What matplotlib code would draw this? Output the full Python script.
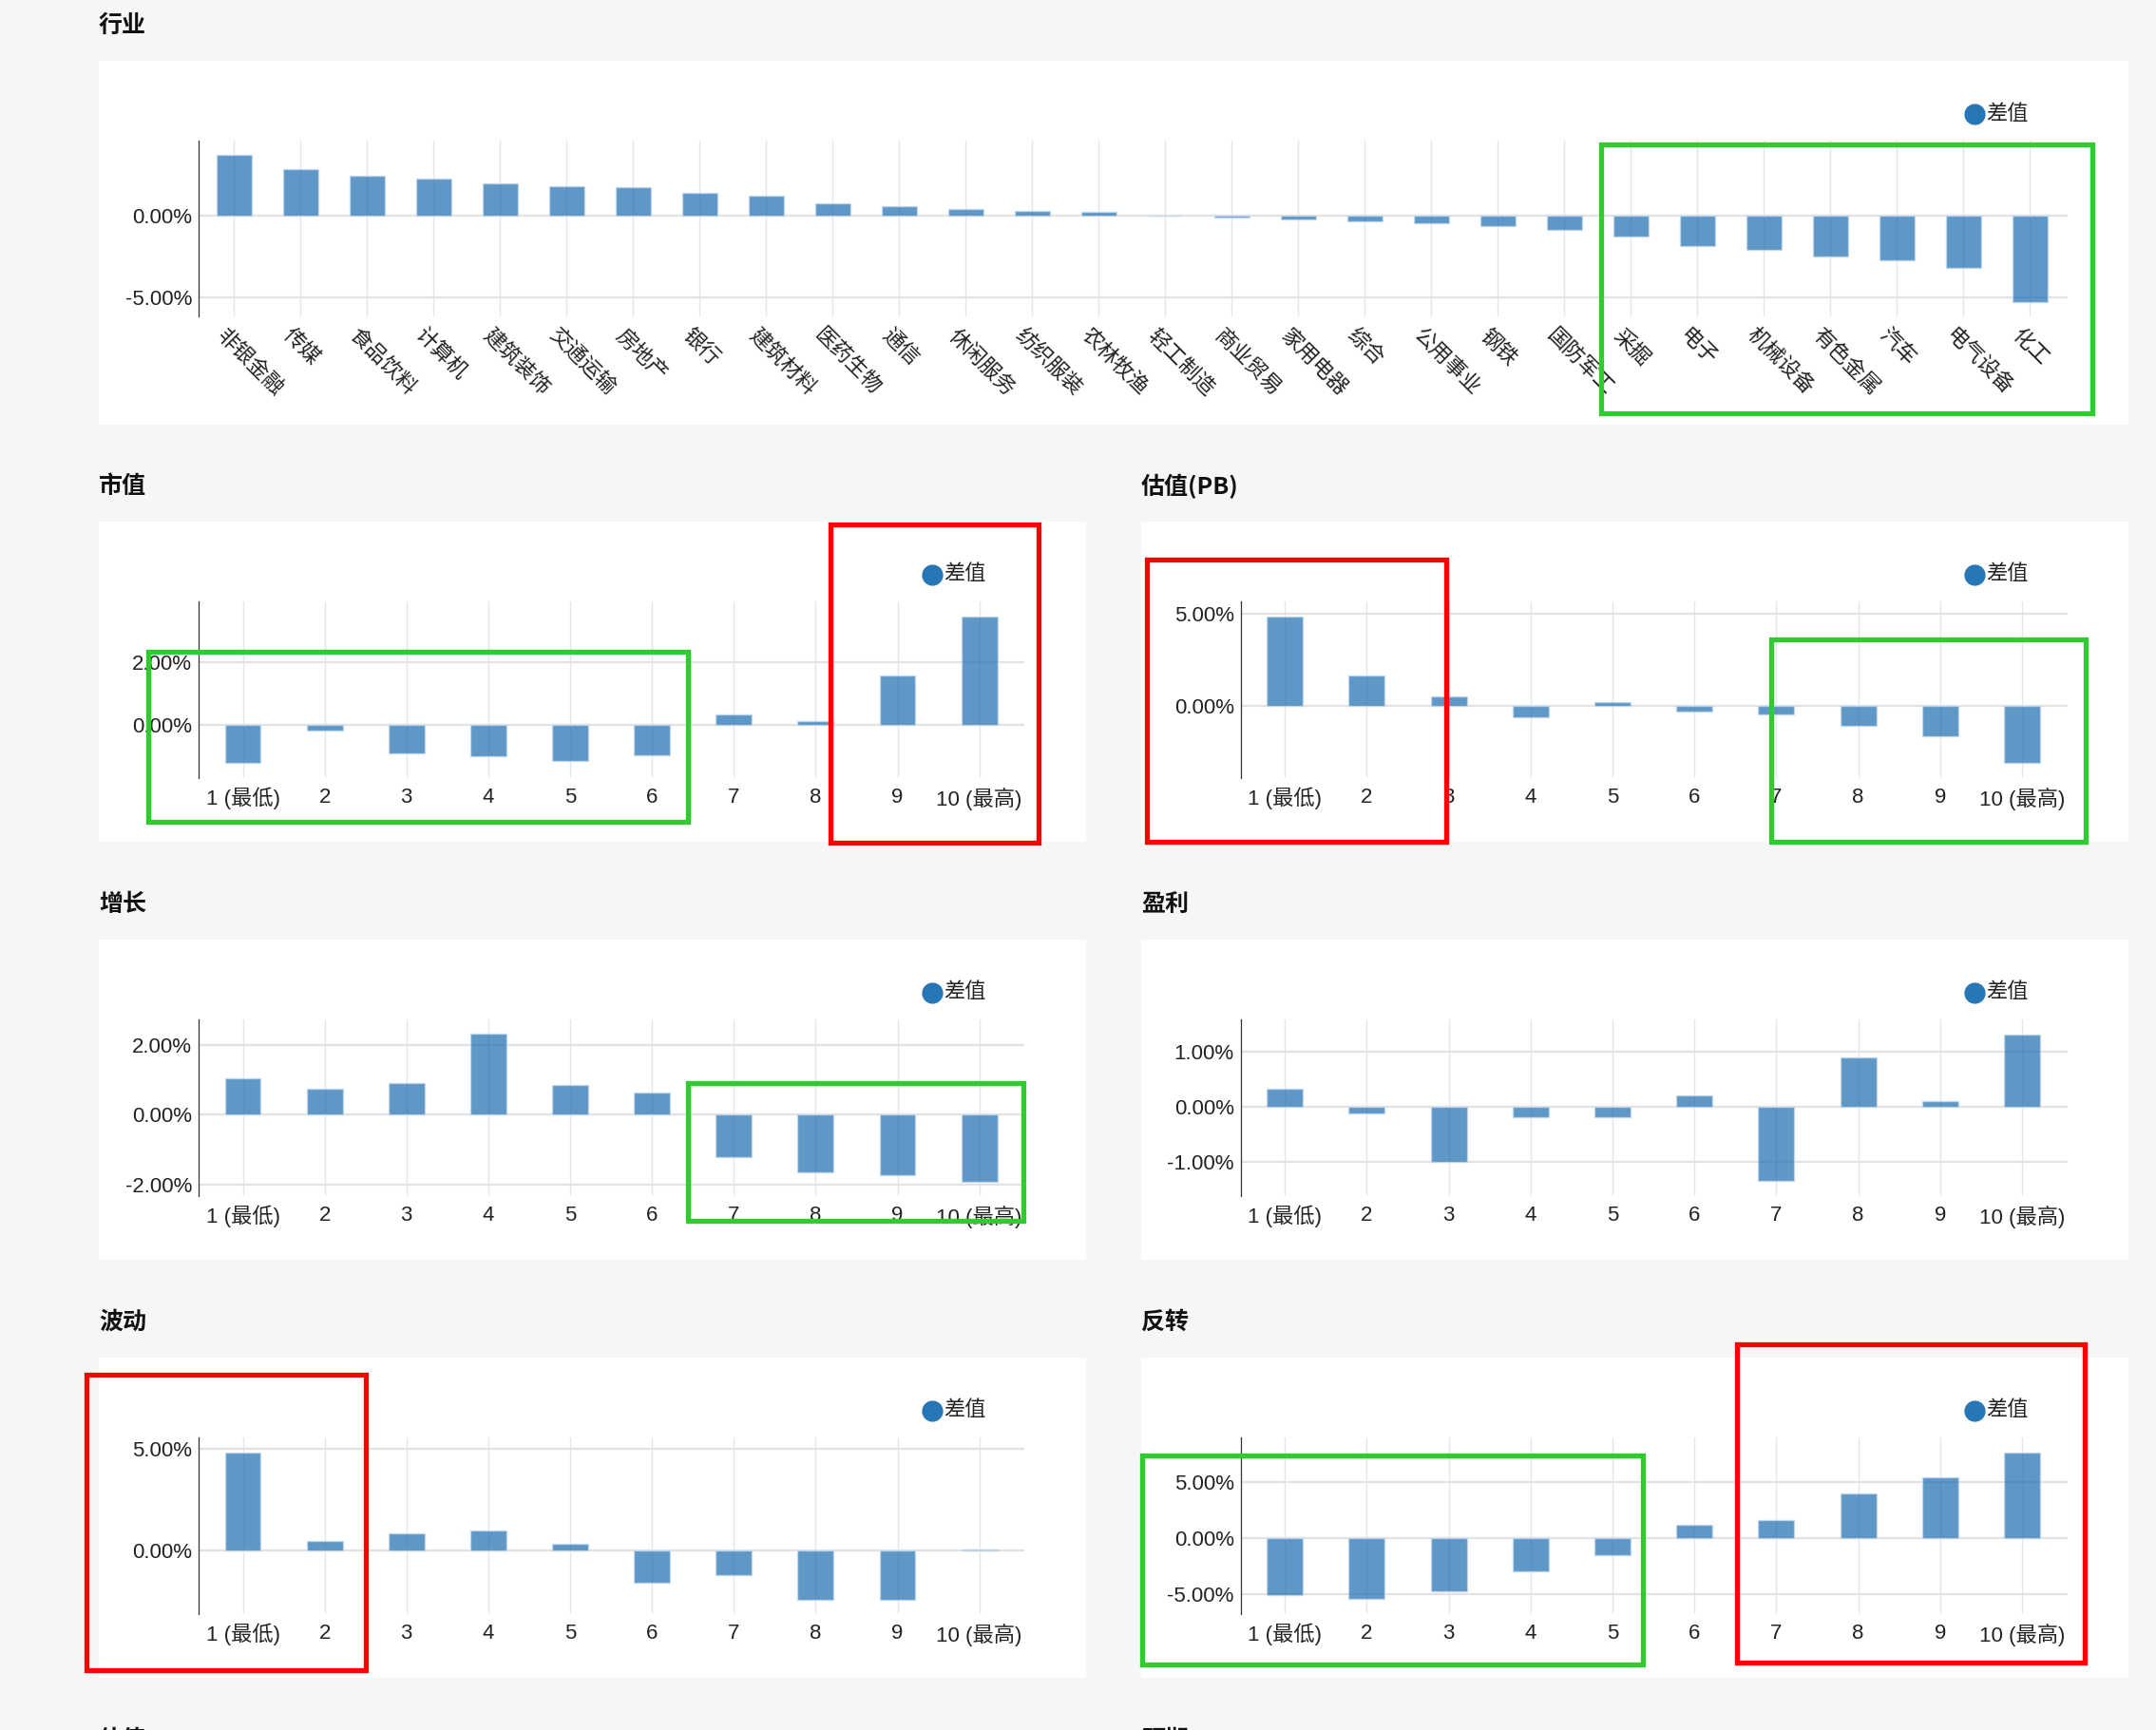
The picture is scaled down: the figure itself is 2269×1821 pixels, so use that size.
import matplotlib
matplotlib.use('Agg')
import matplotlib.pyplot as plt
from matplotlib.patches import Rectangle
from matplotlib.lines import Line2D
from matplotlib.ticker import FuncFormatter
from matplotlib.transforms import ScaledTranslation

# ---------------- data ----------------
industries = ['非银金融', '传媒', '食品饮料', '计算机', '建筑装饰', '交通运输', '房地产', '银行',
              '建筑材料', '医药生物', '通信', '休闲服务', '纺织服装', '农林牧渔', '轻工制造', '商业贸易',
              '家用电器', '综合', '公用事业', '钢铁', '国防军工', '采掘', '电子', '机械设备',
              '有色金属', '汽车', '电气设备', '化工']
industry_diff = [3.70, 2.83, 2.44, 2.25, 1.96, 1.80, 1.76, 1.38, 1.22, 0.76, 0.56, 0.41, 0.29,
                 0.23, -0.02, -0.10, -0.25, -0.37, -0.47, -0.64, -0.85, -1.26, -1.88, -2.07,
                 -2.50, -2.75, -3.18, -5.31]

deciles = ['1 (最低)', '2', '3', '4', '5', '6', '7', '8', '9', '10 (最高)']
size_diff = [-1.23, -0.20, -0.93, -1.00, -1.15, -0.98, 0.31, 0.10, 1.58, 3.45]
pb_diff = [4.88, 1.63, 0.50, -0.66, 0.17, -0.35, -0.50, -1.09, -1.68, -3.15]
growth_diff = [1.05, 0.75, 0.90, 2.30, 0.84, 0.64, -1.23, -1.66, -1.74, -1.91]
profit_diff = [0.32, -0.12, -1.00, -0.19, -0.19, 0.20, -1.36, 0.90, 0.10, 1.31]
vol_diff = [4.84, 0.47, 0.84, 1.00, 0.33, -1.54, -1.21, -2.38, -2.38, 0.09]
reversal_diff = [-5.11, -5.45, -4.72, -2.97, -1.55, 1.19, 1.64, 3.95, 5.37, 7.63]

legend_label = '差值'

# ---------------- style ----------------
W, H = 2269, 1821
plt.rcParams['font.family'] = ['Liberation Sans', 'Noto Sans CJK SC', 'DejaVu Sans']
BG = '#f6f6f6'
BAR = '#2a74b5'
BAR_EDGE = (0.78, 0.86, 0.94)
GRID = '#e2e2e2'
GREEN = '#2ecc2e'
RED = '#ff0000'

fig = plt.figure(figsize=(W / 100, H / 100), dpi=100, facecolor=BG)


def fx(x):
    return x / W


def fy(y):
    return 1 - y / H


def add_rect(x0, y0, x1, y1, **kw):
    r = Rectangle((fx(x0), fy(y1)), fx(x1) - fx(x0), fy(y0) - fy(y1),
                  transform=fig.transFigure, **kw)
    fig.add_artist(r)


def pct(v, pos):
    return '%.2f%%' % v


def panel(title, px0, py0, px1, py1, ax_box, cats, vals, xlim, ylim, yticks,
          leg_xy, rotate=False):
    # title
    fig.text(fx(px0), fy(py0 - 37), title, fontsize=18, fontweight='bold',
             va='center', ha='left', color='#111111',
             family=['Noto Sans CJK SC', 'DejaVu Sans'])
    # white card
    add_rect(px0, py0, px1, py1, facecolor='white', edgecolor='none', zorder=0)
    ax0, ay0, ax1, ay1 = ax_box
    ax = fig.add_axes([fx(ax0), fy(ay1), fx(ax1) - fx(ax0), fy(ay0) - fy(ay1)])
    ax.set_facecolor('none')
    x = list(range(len(cats)))
    ax.bar(x, vals, width=0.53 if rotate else 0.44, color=BAR, alpha=0.75,
           edgecolor=BAR_EDGE, linewidth=1.0, zorder=3)
    ax.set_xlim(*xlim)
    ax.set_ylim(*ylim)
    ax.set_yticks(yticks)
    ax.yaxis.set_major_formatter(FuncFormatter(pct))
    ax.set_xticks(x)
    ax.grid(True, axis='y', color=GRID, linewidth=1.6, zorder=1)
    ax.grid(True, axis='x', color='#e6e6e6', linewidth=1.0, zorder=1)
    ax.set_axisbelow(True)
    for s in ['top', 'right', 'bottom']:
        ax.spines[s].set_visible(False)
    ax.spines['left'].set_color('#333333')
    ax.spines['left'].set_linewidth(0.9)
    ax.tick_params(axis='y', length=0, pad=5, labelsize=16, labelcolor='#222222')
    if rotate:
        ax.set_xticklabels(cats, rotation=-45, ha='left', va='top',
                           rotation_mode='anchor')
        ax.tick_params(axis='x', length=0, pad=7, labelsize=16, labelcolor='#222222')
        shift = ScaledTranslation(-0.08, 0, fig.dpi_scale_trans)
        for lab in ax.get_xticklabels():
            lab.set_transform(lab.get_transform() + shift)
    else:
        ax.set_xticklabels(cats)
        ax.tick_params(axis='x', length=0, pad=7, labelsize=16, labelcolor='#222222')
    # legend
    lx, ly = leg_xy
    fig.add_artist(Line2D([fx(lx)], [fy(ly)], marker='o', markersize=15,
                          color='#2777b7', transform=fig.transFigure))
    fig.text(fx(lx + 12), fy(ly), legend_label, fontsize=16, va='center', ha='left',
             color='#222222')
    return ax


# industry panel
panel('行业', 104, 64, 2240, 447, (209, 148, 2176, 333), industries, industry_diff,
      (-0.53, 27.57), (-6.16, 4.59), [-5, 0], (2078, 120), rotate=True)

ROW = 440
LX = (209, 1078)
RX = (1305.6, 2175.5)
specs = [
    ('市值', 0, 0, size_diff, (-1.71, 3.93), [0, 2]),
    ('估值(PB)', 1, 0, pb_diff, (-3.96, 5.69), [0, 5]),
    ('增长', 0, 1, growth_diff, (-2.33, 2.72), [-2, 0, 2]),
    ('盈利', 1, 1, profit_diff, (-1.63, 1.59), [-1, 0, 1]),
    ('波动', 0, 2, vol_diff, (-3.10, 5.57), [0, 5]),
    ('反转', 1, 2, reversal_diff, (-6.78, 8.96), [-5, 0, 5]),
]
for title, col, row, vals, ylim, yt in specs:
    off = row * ROW
    if col == 0:
        px0, px1 = 104, 1143
        axx = LX
        legx = 981
    else:
        px0, px1 = 1201, 2240
        axx = RX
        legx = 2078
    panel(title, px0, 549 + off, px1, 886 + off,
          (axx[0], 633 + off, axx[1], 819 + off), deciles, vals,
          (-0.54, 9.55), ylim, yt, (legx, 605 + off))

# partially visible next-row titles (cut by the bottom edge, as in the source)
fig.text(fx(104), fy(1832), '估值', fontsize=18, fontweight='bold', va='center',
         ha='left', color='#111111', family=['Noto Sans CJK SC', 'DejaVu Sans'])
fig.text(fx(1201), fy(1832), '预期', fontsize=18, fontweight='bold', va='center',
         ha='left', color='#111111', family=['Noto Sans CJK SC', 'DejaVu Sans'])

# highlight boxes
boxes = [
    (1685, 152, 2202, 435, GREEN),
    (156, 686, 724, 865, GREEN),
    (874, 552, 1093, 887, RED),
    (1207, 589, 1522, 886, RED),
    (1864, 673, 2195, 886, GREEN),
    (724, 1140, 1077, 1285, GREEN),
    (91, 1447, 385, 1758, RED),
    (1202, 1532, 1729, 1752, GREEN),
    (1828, 1415, 2194, 1750, RED),
]
for x0, y0, x1, y1, c in boxes:
    add_rect(x0, y0, x1, y1, facecolor='none', edgecolor=c, linewidth=3.8, zorder=10)

fig.savefig('out.png', dpi=100, facecolor=BG)
